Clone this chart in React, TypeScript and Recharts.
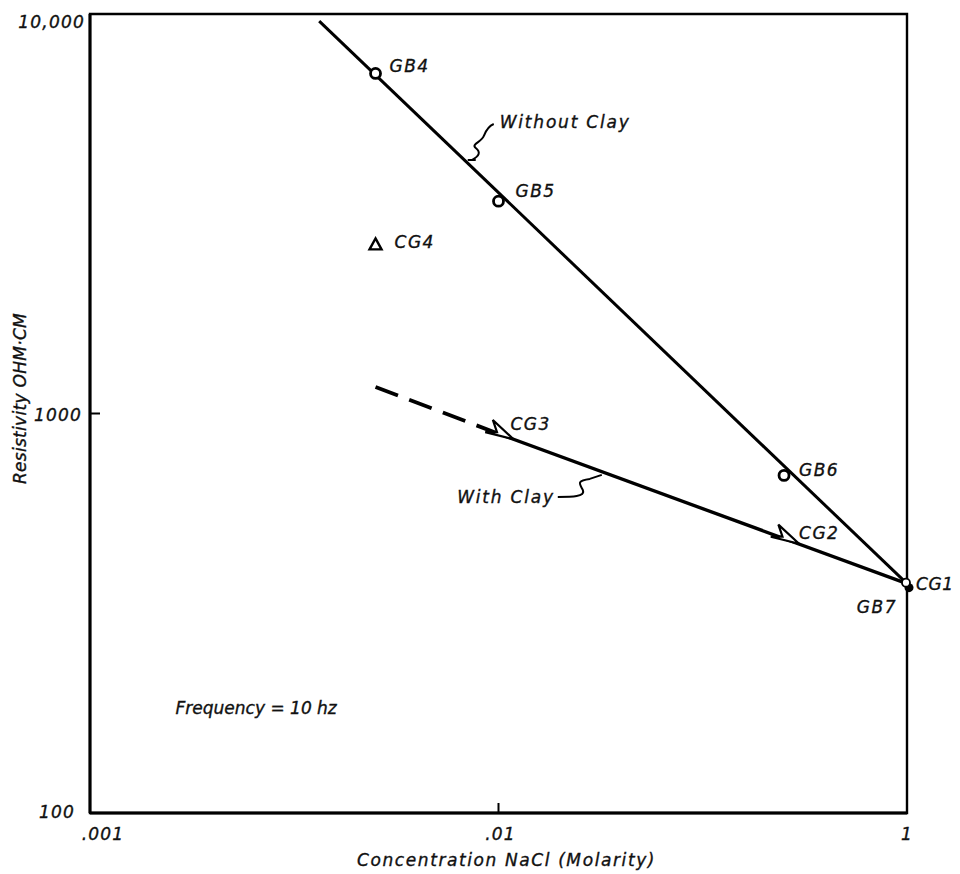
import React from 'react'
import { ScatterChart, Scatter, XAxis, YAxis, ReferenceArea } from 'recharts'

const FONT = '"DejaVu Sans", "Liberation Sans", sans-serif'

// axis ticks (the right-hand tick is printed as "1" in the source figure)
const concTicks = [0.001, 0.01, 0.1]
const concTickText = ['.001', '.01', '1']
const resTicks = [100, 1000, 10000]
const resTickText = ['100', '1000', '10,000']

// samples without clay (open circles)
const gbNames = ['GB4', 'GB5', 'GB6']
const gbConc = [0.005, 0.01, 0.05]
const gbRes = [7100, 3400, 700]

// clay sample off the trend (triangle)
const triNames = ['CG4']
const triConc = [0.005]
const triRes = [2650]

// clay samples on the trend (arrow marks)
const arrowNames = ['CG3', 'CG2']
const arrowConc = [0.01, 0.05]
const arrowRes = [890, 487]

// common end point
const endNames = ['CG1']
const endConc = [0.1]
const endRes = [375]

// fitted lines
const withoutClayConc = [0.00364, 0.1]
const withoutClayRes = [9600, 375]
const withClayConc = [0.01, 0.1]
const withClayRes = [890, 375]
const extrapConc = [0.005, 0.01]
const extrapRes = [1165, 890]

// callouts on the lines and the note
const noteNames = ['Without Clay', 'With Clay']
const noteConc = [0.0086, 0.0179]
const noteRes = [4310, 702]
const freqText = ['Frequency = 10 hz']
const freqConc = [0.00162]
const freqRes = [177]

const toPts = (xs: number[], ys: number[], names?: string[]) =>
  xs.map((x, i) => ({ x, y: ys[i], name: names ? names[i] : '' }))

const gbData = toPts(gbConc, gbRes, gbNames)
const triData = toPts(triConc, triRes, triNames)
const arrowData = toPts(arrowConc, arrowRes, arrowNames)
const endData = toPts(endConc, endRes, endNames)
const noteData = toPts(noteConc, noteRes, noteNames)
const freqData = toPts(freqConc, freqRes, freqText)

const textStyle = {
  fontFamily: FONT,
  fontStyle: 'italic' as const,
  fontSize: 17,
  fill: '#111',
  stroke: '#111',
  strokeWidth: 0.35
}

// label offsets from the marker: dx, dy (baseline), anchor, letter spacing
const labelPos: Record<string, [number, number, 'start' | 'end', number]> = {
  GB4: [14, -1, 'start', 1.5],
  GB5: [17, -4, 'start', 1.5],
  GB6: [15, 1, 'start', 1.5],
  CG4: [19, 4, 'start', 1.5],
  CG3: [12, -4, 'start', 1.5],
  CG2: [15, 1, 'start', 1.5],
  CG1: [9, 6, 'start', 0.6],
  GB7: [-10, 29, 'end', 1.5]
}

const PointLabel = ({ cx, cy, name }: { cx: number; cy: number; name: string }) => {
  const [dx, dy, anchor, ls] = labelPos[name]
  return (
    <text x={cx + dx} y={cy + dy} textAnchor={anchor} style={{ ...textStyle, letterSpacing: ls }}>
      {name}
    </text>
  )
}

const noShape = () => <g />

const circleShape = (p: any) => (
  <g>
    <circle cx={p.cx} cy={p.cy} r={5} fill="#fff" stroke="#000" strokeWidth={2.8} />
    <PointLabel cx={p.cx} cy={p.cy} name={p.payload.name} />
  </g>
)

const triangleShape = (p: any) => (
  <g>
    <path
      d={`M${p.cx},${p.cy - 6} L${p.cx + 6},${p.cy + 5} L${p.cx - 6},${p.cy + 5} Z`}
      fill="#fff"
      stroke="#000"
      strokeWidth={2.4}
    />
    <PointLabel cx={p.cx} cy={p.cy} name={p.payload.name} />
  </g>
)

const arrowShape = (p: any) => (
  <g>
    <path
      d="M16,0 L-10,-11 L-2,-1 L-13,3 Z"
      transform={`translate(${p.cx},${p.cy}) rotate(20)`}
      fill="#fff"
      stroke="#000"
      strokeWidth={2.2}
      strokeLinejoin="miter"
    />
    <PointLabel cx={p.cx} cy={p.cy} name={p.payload.name} />
  </g>
)

const endShape = (p: any) => (
  <g>
    <circle cx={p.cx + 2} cy={p.cy + 4} r={4.5} fill="#000" />
    <circle cx={p.cx - 1} cy={p.cy - 1} r={4} fill="#fff" stroke="#000" strokeWidth={1.8} />
    <PointLabel cx={p.cx} cy={p.cy} name={p.payload.name} />
    <PointLabel cx={p.cx} cy={p.cy} name="GB7" />
  </g>
)

// squiggly leaders for the line callouts
const notePath: Record<string, string> = {
  'Without Clay': 'M-4,0 L4,0 M0,0 C8,-4 9,-8 4,-12 C-1,-16 10,-18 12,-24 C14,-29 17,-34 22,-36',
  'With Clay': 'M-44,22 C-30,22 -16,22 -19,15 C-22,9 -26,6 -12,4 L0,0'
}
const noteText: Record<string, [number, number, 'start' | 'end']> = {
  'Without Clay': [28, -32, 'start'],
  'With Clay': [-47, 28, 'end']
}

const noteShape = (p: any) => {
  const name = p.payload.name
  const [dx, dy, anchor] = noteText[name]
  return (
    <g>
      <path
        d={notePath[name]}
        transform={`translate(${p.cx},${p.cy})`}
        fill="none"
        stroke="#000"
        strokeWidth={2}
      />
      <text x={p.cx + dx} y={p.cy + dy} textAnchor={anchor} style={{ ...textStyle, letterSpacing: 1.8 }}>
        {name}
      </text>
    </g>
  )
}

const freqShape = (p: any) => (
  <text x={p.cx} y={p.cy} style={{ ...textStyle, letterSpacing: 0 }}>
    {p.payload.name}
  </text>
)

const xTickShift = [13, 2, 0]
const renderXTick = (p: any) => {
  const i = concTicks.indexOf(p.payload.value)
  return (
    <text x={p.x + (xTickShift[i] ?? 0)} y={p.y} dy={17} textAnchor="middle" style={{ ...textStyle, letterSpacing: 1.2 }}>
      {concTickText[i]}
    </text>
  )
}

const yTickShift = [-7, 0, 3]
const yTickDy = [5, 7, 11]
const renderYTick = (p: any) => {
  const i = resTicks.indexOf(p.payload.value)
  return (
    <text x={p.x + (yTickShift[i] ?? 0)} y={p.y} dy={yTickDy[i] ?? 6} textAnchor="end" style={{ ...textStyle, letterSpacing: 1.2 }}>
      {resTickText[i]}
    </text>
  )
}

const xTitle = (p: any) => {
  const vb = p.viewBox ?? { x: 82, y: 805, width: 817, height: 61 }
  return (
    <text x={vb.x + vb.width / 2 + 8} y={vb.y + 53} textAnchor="middle" style={{ ...textStyle, letterSpacing: 1.6 }}>
      Concentration NaCl (Molarity)
    </text>
  )
}

const yTitle = (p: any) => {
  const vb = p.viewBox ?? { x: 10, y: 6, width: 72, height: 799 }
  const cx = vb.x + 2
  const cy = vb.y + vb.height / 2 - 15
  return (
    <text
      x={cx}
      y={cy}
      textAnchor="middle"
      dominantBaseline="central"
      transform={`rotate(-90, ${cx}, ${cy})`}
      style={{ ...textStyle, letterSpacing: 0.3 }}
    >
      Resistivity OHM·CM
    </text>
  )
}

export default function App() {
  return (
    <ScatterChart width={952} height={866} margin={{ top: 6, right: 53, bottom: 0, left: 10 }}>
      <XAxis
        dataKey="x"
        type="number"
        scale="log"
        domain={[0.001, 0.1]}
        ticks={concTicks}
        tick={renderXTick}
        tickSize={-10}
        tickMargin={20}
        height={61}
        stroke="#000"
        axisLine={{ stroke: '#000', strokeWidth: 3 }}
        tickLine={{ stroke: '#000', strokeWidth: 2 }}
        label={{ content: xTitle }}
      />
      <XAxis
        xAxisId="top"
        orientation="top"
        type="number"
        scale="log"
        domain={[0.001, 0.1]}
        ticks={[0.01]}
        tick={noShape}
        tickSize={-10}
        height={0}
        axisLine={false}
        tickLine={{ stroke: '#000', strokeWidth: 2 }}
      />
      <YAxis
        dataKey="y"
        type="number"
        scale="log"
        domain={[100, 10000]}
        ticks={resTicks}
        tick={renderYTick}
        tickSize={-10}
        tickMargin={18}
        width={72}
        stroke="#000"
        axisLine={{ stroke: '#000', strokeWidth: 3 }}
        tickLine={{ stroke: '#000', strokeWidth: 2 }}
        label={{ content: yTitle }}
      />
      <ReferenceArea x1={0.001} x2={0.1} y1={100} y2={10000} fill="none" stroke="#000" strokeWidth={2.4} />

      <Scatter
        data={toPts(withoutClayConc, withoutClayRes)}
        line={{ stroke: '#000', strokeWidth: 3 }}
        lineType="joint"
        shape={noShape}
        fill="none"
        isAnimationActive={false}
      />
      <Scatter
        data={toPts(withClayConc, withClayRes)}
        line={{ stroke: '#000', strokeWidth: 3.4 }}
        lineType="joint"
        shape={noShape}
        fill="none"
        isAnimationActive={false}
      />
      <Scatter
        data={toPts(extrapConc, extrapRes)}
        line={{ stroke: '#000', strokeWidth: 3.8, strokeDasharray: '24 12' }}
        lineType="joint"
        shape={noShape}
        fill="none"
        isAnimationActive={false}
      />
      <Scatter data={noteData} shape={noteShape} isAnimationActive={false} />
      <Scatter data={freqData} shape={freqShape} isAnimationActive={false} />
      <Scatter data={gbData} shape={circleShape} isAnimationActive={false} />
      <Scatter data={triData} shape={triangleShape} isAnimationActive={false} />
      <Scatter data={arrowData} shape={arrowShape} isAnimationActive={false} />
      <Scatter data={endData} shape={endShape} isAnimationActive={false} />
    </ScatterChart>
  )
}
